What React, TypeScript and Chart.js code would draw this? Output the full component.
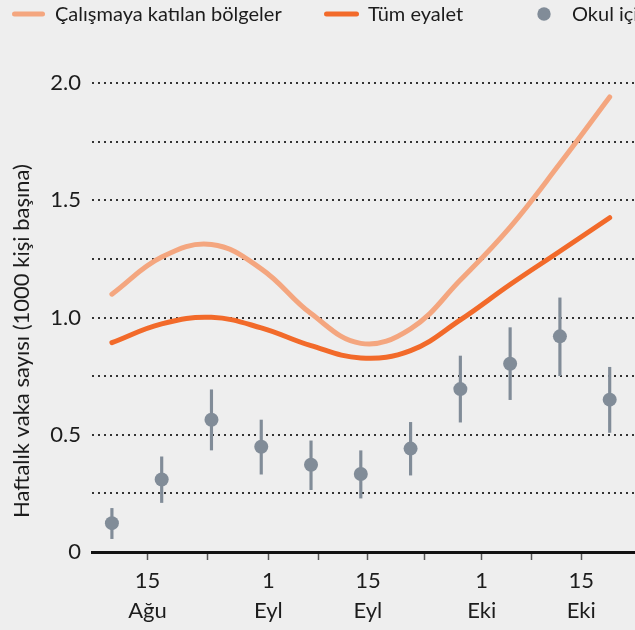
import React, { useEffect, useRef } from 'react';
import { Chart, registerables } from 'chart.js';

Chart.register(...registerables);

// ---------- data ----------
const seriesLabels = ['Çalışmaya katılan bölgeler', 'Tüm eyalet', 'Okul içi'];
const yAxisTitle = 'Haftalık vaka sayısı (1000 kişi başına)';

const dateOrigin = '2020-08-01';
const weekDates = [
  '2020-08-10', '2020-08-17', '2020-08-24', '2020-08-31', '2020-09-07', '2020-09-14',
  '2020-09-21', '2020-09-28', '2020-10-05', '2020-10-12', '2020-10-19',
];
const studyRegions = [1.1, 1.258, 1.312, 1.208, 1.017, 0.89, 0.952, 1.16, 1.386, 1.657, 1.941];
const wholeState = [0.893, 0.973, 1.001, 0.956, 0.88, 0.828, 0.859, 0.99, 1.141, 1.283, 1.426];
const schoolCases = [0.123, 0.309, 0.564, 0.449, 0.372, 0.333, 0.441, 0.695, 0.803, 0.92, 0.65];
const schoolLow = [0.057, 0.211, 0.435, 0.332, 0.266, 0.23, 0.328, 0.554, 0.65, 0.752, 0.51];
const schoolHigh = [0.186, 0.406, 0.692, 0.563, 0.474, 0.432, 0.553, 0.836, 0.957, 1.084, 0.788];

const xTickDates = ['2020-08-15', '2020-09-01', '2020-09-15', '2020-10-01', '2020-10-15'];
const xTickDayLabels = ['15', '1', '15', '1', '15'];
const xTickMonthLabels = ['Ağu', 'Eyl', 'Eyl', 'Eki', 'Eki'];
const yTickValues = [0, 0.25, 0.5, 0.75, 1, 1.25, 1.5, 1.75, 2];

// ---------- styles ----------
const FONT = 'Lato, "Noto Sans", sans-serif';
const TEXT = '#1c1c1c';
const BG = '#eeeeee';
const LIGHT = '#f4a67f';
const DARK = '#f26a2a';
const GREY = '#818c98';

const dayOf = (s: string) => (Date.parse(s) - Date.parse(dateOrigin)) / 86400000;

export default function App() {
  const ref = useRef<HTMLCanvasElement | null>(null);

  useEffect(() => {
    if (!ref.current) return;
    const days = weekDates.map(dayOf);
    const majorDays = xTickDates.map(dayOf);
    const minorDays = majorDays.slice(1).map((d, i) => (d + majorDays[i]) / 2);
    const xTicks = [...majorDays, ...minorDays].sort((a, b) => a - b);
    const labelFor = (v: number) => {
      const i = majorDays.findIndex((d) => Math.abs(d - v) < 1e-6);
      return i >= 0 ? [xTickDayLabels[i], xTickMonthLabels[i]] : '';
    };

    const legendPlugin = {
      id: 'customLegend',
      afterDraw(chart: any) {
        const ctx = chart.ctx;
        const ds = chart.data.datasets;
        const y = 14;
        ctx.save();
        ctx.lineCap = 'round';
        ctx.strokeStyle = ds[0].borderColor;
        ctx.lineWidth = 5;
        ctx.beginPath(); ctx.moveTo(14.5, y); ctx.lineTo(42.5, y); ctx.stroke();
        ctx.strokeStyle = ds[1].borderColor;
        ctx.beginPath(); ctx.moveTo(326.5, y); ctx.lineTo(356.5, y); ctx.stroke();
        ctx.fillStyle = ds[2].pointBackgroundColor;
        ctx.beginPath(); ctx.arc(544, y, 6.7, 0, Math.PI * 2); ctx.fill();
        ctx.fillStyle = TEXT;
        ctx.font = `20px ${FONT}`;
        ctx.textBaseline = 'alphabetic';
        ctx.textAlign = 'left';
        ctx.fillText(ds[0].label, 55, 21);
        ctx.fillText(ds[1].label, 368, 21);
        ctx.fillText(ds[2].label, 572, 21);
        ctx.restore();
      },
    };

    const yTitlePlugin = {
      id: 'yTitle',
      afterDraw(chart: any) {
        const ctx = chart.ctx;
        ctx.save();
        ctx.translate(22, 341);
        ctx.rotate(-Math.PI / 2);
        ctx.font = `22px ${FONT}`;
        ctx.fillStyle = TEXT;
        ctx.textAlign = 'center';
        ctx.textBaseline = 'middle';
        ctx.fillText(yAxisTitle, 0, 0);
        ctx.restore();
      },
    };

    const chart = new Chart(ref.current, {
      type: 'line',
      data: {
        datasets: [
          {
            label: seriesLabels[0],
            data: days.map((d, i) => ({ x: d, y: studyRegions[i] })),
            borderColor: LIGHT,
            borderWidth: 5,
            borderCapStyle: 'round',
            pointRadius: 0,
            tension: 0.4,
            order: 3,
          },
          {
            label: seriesLabels[1],
            data: days.map((d, i) => ({ x: d, y: wholeState[i] })),
            borderColor: DARK,
            borderWidth: 5,
            borderCapStyle: 'round',
            pointRadius: 0,
            tension: 0.4,
            order: 2,
          },
          {
            label: seriesLabels[2],
            data: days.map((d, i) => ({ x: d, y: schoolCases[i] })),
            showLine: false,
            pointRadius: 7,
            pointBackgroundColor: GREY,
            pointBorderWidth: 0,
            borderColor: GREY,
            order: 0,
          },
          {
            type: 'bar',
            label: 'range',
            data: days.map((d, i) => ({ x: d, y: [schoolLow[i], schoolHigh[i]] })),
            backgroundColor: GREY,
            borderWidth: 0,
            barThickness: 2.5,
            grouped: false,
            order: 1,
          } as any,
        ],
      },
      options: {
        responsive: false,
        animation: false,
        devicePixelRatio: 1,
        events: [],
        layout: { padding: { top: 48, left: 0, right: 0, bottom: 0 } },
        plugins: { legend: { display: false }, tooltip: { enabled: false } },
        scales: {
          x: {
            type: 'linear',
            min: 6.2,
            max: 87.2,
            offset: false,
            afterBuildTicks: (s: any) => {
              s.ticks = xTicks.map((v) => ({ value: v }));
            },
            afterFit: (s: any) => {
              s.height = 78;
            },
            grid: {
              display: true,
              offset: false,
              drawOnChartArea: false,
              drawTicks: true,
              tickLength: 8,
              tickColor: '#555',
              tickWidth: 1.5,
            },
            border: { display: true, color: '#111', width: 3 },
            ticks: {
              autoSkip: false,
              maxRotation: 0,
              padding: 6,
              color: TEXT,
              font: { family: FONT, size: 22, lineHeight: 1.36 },
              callback: (v: any) => labelFor(Number(v)),
            },
          },
          y: {
            type: 'linear',
            min: 0,
            max: 2.15,
            afterBuildTicks: (s: any) => {
              s.ticks = yTickValues.map((v) => ({ value: v }));
            },
            afterFit: (s: any) => {
              s.width = 92;
            },
            grid: {
              color: (c: any) => (c.tick && c.tick.value === 0 ? 'rgba(0,0,0,0)' : '#333'),
              lineWidth: 2,
              drawTicks: false,
            },
            border: { display: false, dash: [2, 4] },
            ticks: {
              padding: 11,
              color: TEXT,
              font: { family: FONT, size: 22 },
              callback: (v: any) => {
                const n = Number(v);
                if (n === 0) return '0';
                return n % 0.5 === 0 ? n.toFixed(1) : '';
              },
            },
          },
        },
      } as any,
      plugins: [legendPlugin, yTitlePlugin],
    });
    return () => chart.destroy();
  }, []);

  return (
    <div
      style={{
        position: 'absolute',
        left: 0,
        top: 0,
        width: 635,
        height: 630,
        overflow: 'hidden',
        background: BG,
      }}
    >
      <canvas ref={ref} width={675} height={630} style={{ display: 'block' }} />
    </div>
  );
}
